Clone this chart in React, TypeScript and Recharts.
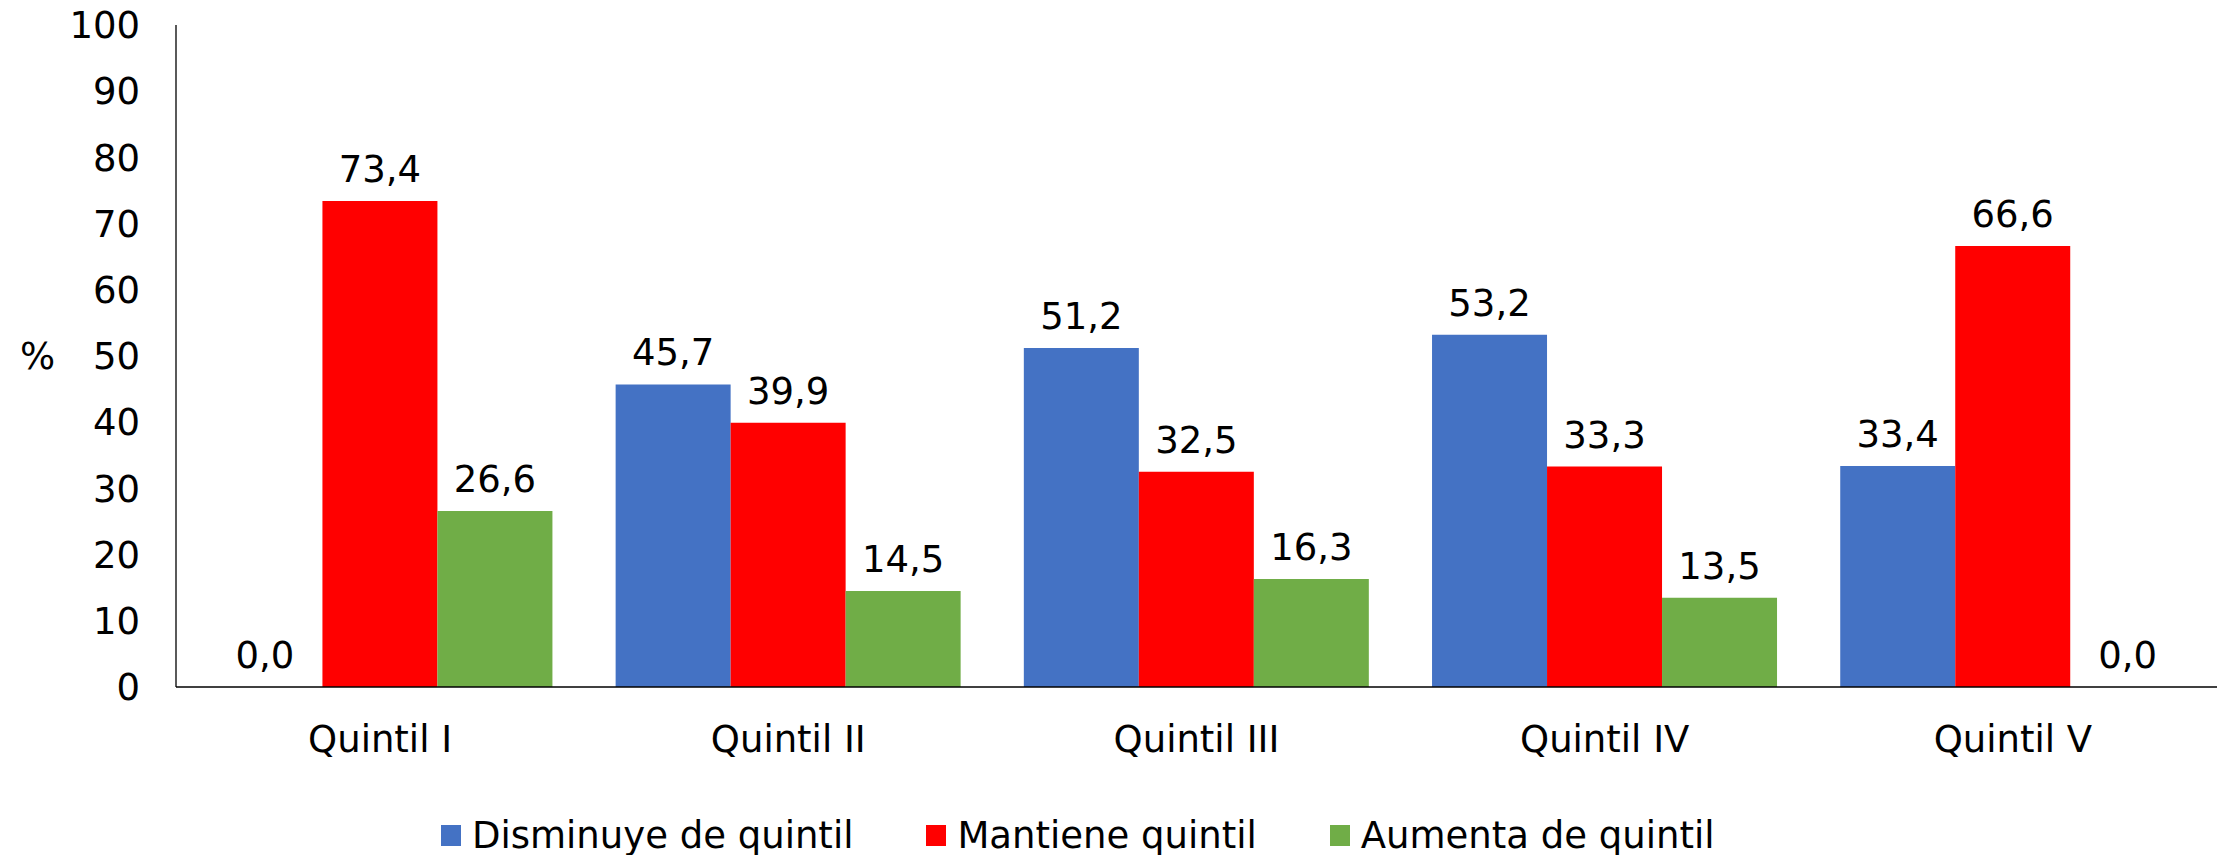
import React from 'react';
import {
  BarChart,
  Bar,
  XAxis,
  YAxis,
  Legend,
  LabelList,
} from 'recharts';

const quintiles = ['Quintil I', 'Quintil II', 'Quintil III', 'Quintil IV', 'Quintil V'];
const disminuye = [0.0, 45.7, 51.2, 53.2, 33.4];
const mantiene = [73.4, 39.9, 32.5, 33.3, 66.6];
const aumenta = [26.6, 14.5, 16.3, 13.5, 0.0];
const yTicks = [0, 10, 20, 30, 40, 50, 60, 70, 80, 90, 100];

const series = [
  { key: 'disminuye', name: 'Disminuye de quintil', color: '#4472C4' },
  { key: 'mantiene', name: 'Mantiene quintil', color: '#FF0000' },
  { key: 'aumenta', name: 'Aumenta de quintil', color: '#70AD47' },
];

const data = quintiles.map((q, i) => ({
  quintil: q,
  disminuye: disminuye[i],
  mantiene: mantiene[i],
  aumenta: aumenta[i],
}));

const FONT = '"DejaVu Sans", Verdana, sans-serif';
const fmt = (v: any) => Number(v).toFixed(1).replace('.', ',');

const LegendContent = () => (
  <div style={{ display: 'flex', alignItems: 'center', fontFamily: FONT, fontSize: 37, color: '#000' }}>
    {series.map((s, i) => (
      <div key={s.key} style={{ display: 'flex', alignItems: 'center', marginRight: i < series.length - 1 ? 73 : 0 }}>
        <span style={{ display: 'inline-block', width: 20, height: 21, background: s.color, marginRight: 11 }} />
        <span style={{ whiteSpace: 'nowrap' }}>{s.name}</span>
      </div>
    ))}
  </div>
);

export default function App() {
  return (
    <div style={{ position: 'absolute', left: 0, top: 0, background: '#fff' }}>
      <BarChart
        width={2221}
        height={855}
        data={data}
        margin={{ top: 25, right: 4, bottom: 108, left: 0 }}
        barCategoryGap="7.7%"
        barGap={0}
      >
        <XAxis
          dataKey="quintil"
          height={60}
          tickLine={false}
          tickSize={0}
          tickMargin={39}
          axisLine={{ stroke: '#000', strokeWidth: 1.3 }}
          tick={{ fill: '#000', fontSize: 37, fontFamily: FONT }}
        />
        <YAxis
          width={176}
          domain={[0, 100]}
          ticks={yTicks}
          tickLine={false}
          tickSize={0}
          tickMargin={36}
          axisLine={{ stroke: '#000', strokeWidth: 1.3 }}
          tick={{ fill: '#000', fontSize: 37, fontFamily: FONT }}
          label={{ value: '%', angle: 0, position: 'insideLeft', offset: 20, fill: '#000', fontSize: 37, fontFamily: FONT }}
        />
        <Legend
          layout="horizontal"
          verticalAlign="middle"
          align="center"
          content={<LegendContent />}
          wrapperStyle={{ left: 441, top: 814, width: 'auto' }}
        />
        {series.map((s) => (
          <Bar
            key={s.key}
            dataKey={s.key}
            name={s.name}
            fill={s.color}
            minPointSize={0.01}
            isAnimationActive={false}
          >
            <LabelList
              dataKey={s.key}
              position="top"
              offset={19}
              formatter={fmt}
              fill="#000"
              fontSize={37}
              fontFamily={FONT}
            />
          </Bar>
        ))}
      </BarChart>
    </div>
  );
}
